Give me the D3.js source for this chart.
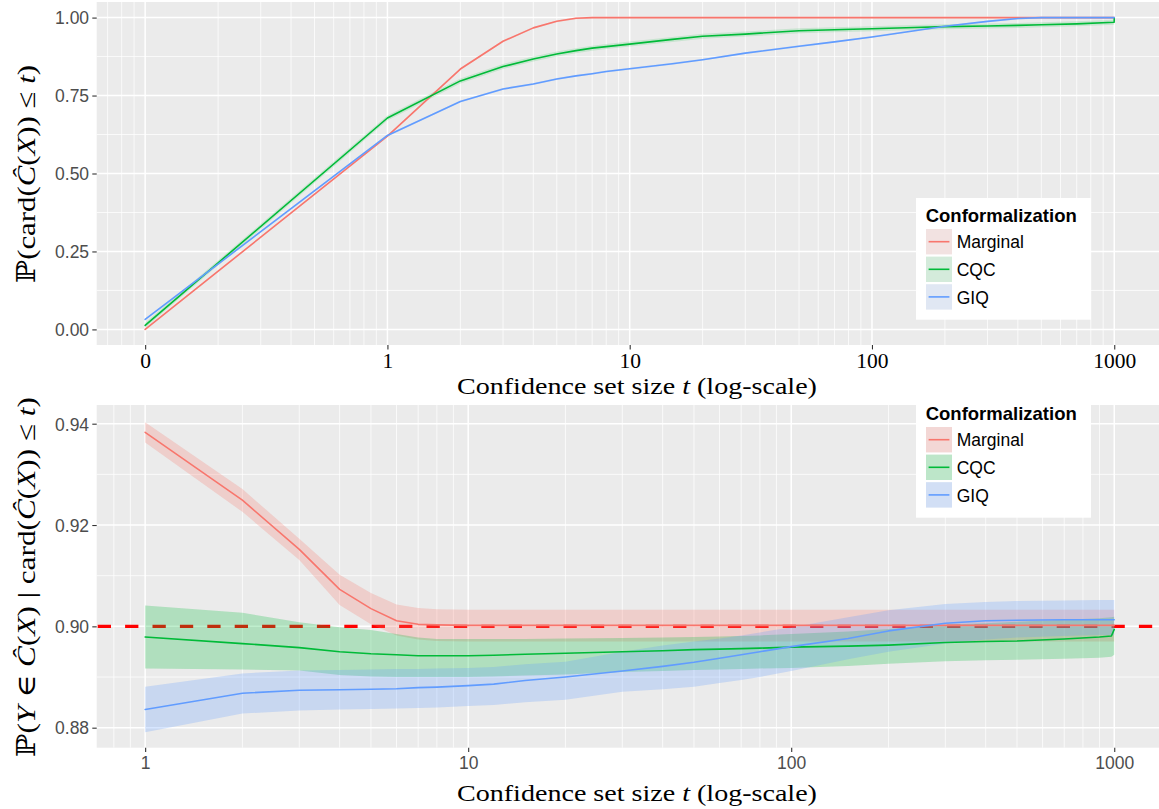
<!DOCTYPE html>
<html>
<head>
<meta charset="utf-8">
<script src="https://cdn.jsdelivr.net/npm/d3@7"></script>
<style>
  html, body { margin: 0; padding: 0; background: #ffffff; }
  svg { display: block; }
</style>
</head>
<body>
<svg id="chart" width="1159" height="809"></svg>
<script>
// ---------- data ----------
const methods = ["Marginal", "CQC", "GIQ"];
const colors = ["#F8766D", "#00BA38", "#619CFF"];

// Top panel: cumulative distribution of the confidence-set size (t = 0 is drawn one decade below 1)
const sizeT = [0, 1, 2, 3, 4, 5, 6, 7, 8, 10, 15, 20, 30, 50, 70, 100, 150, 200, 300, 400, 500, 700, 999, 1000];
const cdfMarginal = [0.000, 0.620, 0.835, 0.924, 0.967, 0.988, 0.998, 1.000, 1.000, 1.000, 1.000, 1.000, 1.000, 1.000, 1.000, 1.000, 1.000, 1.000, 1.000, 1.000, 1.000, 1.000, 1.000, 1.000];
const cdfCQC      = [0.013, 0.678, 0.797, 0.843, 0.867, 0.883, 0.894, 0.902, 0.907, 0.915, 0.930, 0.940, 0.947, 0.958, 0.961, 0.964, 0.968, 0.971, 0.973, 0.975, 0.977, 0.980, 0.985, 0.999];
const cdfGIQ      = [0.032, 0.622, 0.731, 0.771, 0.787, 0.803, 0.813, 0.820, 0.827, 0.836, 0.852, 0.865, 0.886, 0.908, 0.922, 0.938, 0.958, 0.972, 0.988, 0.997, 1.000, 1.000, 1.000, 1.000];
const cdfBandHalf = [0.003, 0.008, 0.003];

// Bottom panel: conditional coverage given the set size, with confidence bands
const condT = [1, 2, 3, 4, 5, 6, 7, 8, 10, 12, 15, 20, 30, 40, 50, 60, 70, 80, 100, 150, 200, 300, 400, 500, 700, 900, 980, 1000];
const covMarginal   = [0.9383, 0.9249, 0.9152, 0.9073, 0.9035, 0.9011, 0.9004, 0.9003, 0.9002, 0.9002, 0.9002, 0.9002, 0.9002, 0.9002, 0.9002, 0.9002, 0.9002, 0.9002, 0.9002, 0.9002, 0.9002, 0.9002, 0.9002, 0.9002, 0.9002, 0.9002, 0.9002, 0.9002];
const covMarginalLo = [0.9363, 0.9226, 0.9131, 0.9042, 0.9004, 0.8982, 0.8974, 0.8971, 0.8970, 0.8970, 0.8970, 0.8970, 0.8970, 0.8970, 0.8970, 0.8970, 0.8970, 0.8970, 0.8970, 0.8970, 0.8970, 0.8970, 0.8970, 0.8970, 0.8970, 0.8970, 0.8970, 0.8970];
const covMarginalHi = [0.9403, 0.9271, 0.9173, 0.9102, 0.9066, 0.9043, 0.9036, 0.9034, 0.9033, 0.9033, 0.9033, 0.9033, 0.9033, 0.9033, 0.9033, 0.9033, 0.9033, 0.9033, 0.9033, 0.9033, 0.9033, 0.9033, 0.9033, 0.9033, 0.9033, 0.9033, 0.9033, 0.9033];
const covCQC   = [0.8979, 0.8966, 0.8958, 0.8950, 0.8946, 0.8944, 0.8942, 0.8942, 0.8942, 0.8943, 0.8945, 0.8947, 0.8950, 0.8952, 0.8954, 0.8955, 0.8956, 0.8957, 0.8959, 0.8961, 0.8963, 0.8968, 0.8970, 0.8971, 0.8975, 0.8979, 0.8981, 0.8994];
const covCQCLo = [0.8917, 0.8915, 0.8913, 0.8904, 0.8901, 0.8900, 0.8900, 0.8900, 0.8900, 0.8901, 0.8903, 0.8905, 0.8910, 0.8912, 0.8914, 0.8915, 0.8916, 0.8917, 0.8918, 0.8922, 0.8926, 0.8931, 0.8933, 0.8934, 0.8936, 0.8938, 0.8940, 0.8944];
const covCQCHi = [0.9041, 0.9027, 0.9008, 0.8998, 0.8993, 0.8985, 0.8978, 0.8975, 0.8975, 0.8975, 0.8975, 0.8976, 0.8977, 0.8978, 0.8979, 0.8980, 0.8981, 0.8982, 0.8985, 0.8990, 0.8995, 0.9003, 0.9006, 0.9009, 0.9013, 0.9016, 0.9018, 0.9019];
const covGIQ   = [0.8836, 0.8868, 0.8874, 0.8875, 0.8876, 0.8877, 0.8879, 0.8880, 0.8883, 0.8886, 0.8893, 0.8900, 0.8912, 0.8921, 0.8929, 0.8937, 0.8944, 0.8950, 0.8960, 0.8976, 0.8991, 0.9006, 0.9011, 0.9012, 0.9013, 0.9013, 0.9013, 0.9013];
const covGIQLo = [0.8791, 0.8828, 0.8834, 0.8836, 0.8837, 0.8838, 0.8839, 0.8840, 0.8843, 0.8845, 0.8850, 0.8855, 0.8871, 0.8876, 0.8881, 0.8888, 0.8894, 0.8900, 0.8912, 0.8935, 0.8950, 0.8966, 0.8974, 0.8978, 0.8981, 0.8983, 0.8983, 0.8983];
const covGIQHi = [0.8881, 0.8907, 0.8913, 0.8914, 0.8915, 0.8916, 0.8916, 0.8917, 0.8918, 0.8920, 0.8925, 0.8930, 0.8950, 0.8962, 0.8970, 0.8976, 0.8982, 0.8988, 0.8998, 0.9018, 0.9032, 0.9044, 0.9048, 0.9050, 0.9051, 0.9052, 0.9052, 0.9052];
const targetLevel = 0.90;

const topXTicks = [0, 1, 10, 100, 1000];
const topYTicks = [0, 0.25, 0.5, 0.75, 1];
const botXTicks = [1, 10, 100, 1000];
const botYTicks = [0.88, 0.90, 0.92, 0.94];

// ---------- layout ----------
const svg = d3.select("#chart");
const SANS = "'Liberation Sans', Arial, Helvetica, sans-serif";
const SERIF = "'Liberation Serif', 'Times New Roman', 'DejaVu Serif', serif";
const PANEL_BG = "#EBEBEB";

svg.append("rect").attr("width", 1159).attr("height", 809).attr("fill", "#ffffff");

const topBox = { left: 96.7, right: 1162.7, top: 2, bottom: 345 };
const botBox = { left: 96.7, right: 1162.7, top: 405, bottom: 747.7 };

const xTop = d3.scaleLog().domain([Math.pow(10, -1.2), Math.pow(10, 3.2)]).range([topBox.left, topBox.right]);
const yTop = d3.scaleLinear().domain([-0.05, 1.05]).range([topBox.bottom, topBox.top]);
const xBot = d3.scaleLog().domain([Math.pow(10, -0.15), Math.pow(10, 3.15)]).range([botBox.left, botBox.right]);
const yBot = d3.scaleLinear().domain([0.87605, 0.94369]).range([botBox.bottom, botBox.top]);

// size 0 sits one decade below size 1 on the log axis
const sizeToAxis = t => (t === 0 ? 0.1 : t);

function minorLogBreaks(scale) {
  const [lo, hi] = scale.domain();
  const out = [];
  for (let k = -3; k <= 4; k++) {
    for (let m = 2; m <= 9; m++) {
      const v = m * Math.pow(10, k);
      if (v > lo && v < hi) out.push(v);
    }
  }
  return out;
}

function drawPanel(box, xs, ys, xMajor, yMajor, yMinor, clipId) {
  const g = svg.append("g");
  g.append("rect")
    .attr("x", box.left).attr("y", box.top)
    .attr("width", box.right - box.left).attr("height", box.bottom - box.top)
    .attr("fill", PANEL_BG);
  svg.append("clipPath").attr("id", clipId).append("rect")
    .attr("x", box.left).attr("y", box.top)
    .attr("width", box.right - box.left).attr("height", box.bottom - box.top);
  // minor grid
  g.selectAll(null).data(yMinor).join("line")
    .attr("x1", box.left).attr("x2", box.right)
    .attr("y1", d => ys(d)).attr("y2", d => ys(d))
    .attr("stroke", "#ffffff").attr("stroke-width", 0.75);
  g.selectAll(null).data(minorLogBreaks(xs)).join("line")
    .attr("y1", box.top).attr("y2", box.bottom)
    .attr("x1", d => xs(d)).attr("x2", d => xs(d))
    .attr("stroke", "#ffffff").attr("stroke-width", 0.75);
  // major grid
  g.selectAll(null).data(yMajor).join("line")
    .attr("x1", box.left).attr("x2", box.right)
    .attr("y1", d => ys(d)).attr("y2", d => ys(d))
    .attr("stroke", "#ffffff").attr("stroke-width", 1.5);
  g.selectAll(null).data(xMajor).join("line")
    .attr("y1", box.top).attr("y2", box.bottom)
    .attr("x1", d => xs(d)).attr("x2", d => xs(d))
    .attr("stroke", "#ffffff").attr("stroke-width", 1.5);
  return g;
}

// ---------- top panel ----------
drawPanel(topBox, xTop, yTop, topXTicks.map(sizeToAxis), topYTicks, [0.125, 0.375, 0.625, 0.875], "clipTop");

const cdfSeries = [cdfMarginal, cdfCQC, cdfGIQ];
const topLayer = svg.append("g").attr("clip-path", "url(#clipTop)");
cdfSeries.forEach((vals, i) => {
  const pts = sizeT.map((t, j) => ({ x: sizeToAxis(t), y: vals[j] }));
  topLayer.append("path")
    .attr("d", d3.area().x(d => xTop(d.x)).y0(d => yTop(d.y - cdfBandHalf[i])).y1(d => yTop(d.y + cdfBandHalf[i]))(pts))
    .attr("fill", colors[i]).attr("fill-opacity", 0.15);
});
cdfSeries.forEach((vals, i) => {
  const pts = sizeT.map((t, j) => ({ x: sizeToAxis(t), y: vals[j] }));
  topLayer.append("path")
    .attr("d", d3.line().x(d => xTop(d.x)).y(d => yTop(d.y))(pts))
    .attr("fill", "none").attr("stroke", colors[i]).attr("stroke-width", 1.6)
    .attr("stroke-linejoin", "round").attr("stroke-linecap", "round");
});

// top axes
const topYAxis = svg.append("g").attr("transform", `translate(${topBox.left},0)`)
  .call(d3.axisLeft(yTop).tickValues(topYTicks).tickFormat(d3.format(".2f")).tickSize(4.4).tickPadding(3.2));
const topXAxis = svg.append("g").attr("transform", `translate(0,${topBox.bottom})`)
  .call(d3.axisBottom(xTop).tickValues(topXTicks.map(sizeToAxis))
    .tickFormat(d => (d < 1 ? "0" : d3.format("d")(d))).tickSize(4.4));

// ---------- bottom panel ----------
drawPanel(botBox, xBot, yBot, botXTicks, botYTicks, [0.89, 0.91, 0.93], "clipBot");

const botLayer = svg.append("g").attr("clip-path", "url(#clipBot)");
botLayer.append("line")
  .attr("x1", botBox.left + 1).attr("x2", botBox.right)
  .attr("y1", yBot(targetLevel)).attr("y2", yBot(targetLevel))
  .attr("stroke", "#FF0000").attr("stroke-width", 3.3)
  .attr("stroke-dasharray", "13.3 14.1");

const covSeries = [
  { mid: covMarginal, lo: covMarginalLo, hi: covMarginalHi },
  { mid: covCQC, lo: covCQCLo, hi: covCQCHi },
  { mid: covGIQ, lo: covGIQLo, hi: covGIQHi }
];
covSeries.forEach((s, i) => {
  const pts = condT.map((t, j) => ({ x: t, lo: s.lo[j], hi: s.hi[j] }));
  botLayer.append("path")
    .attr("d", d3.area().x(d => xBot(d.x)).y0(d => yBot(d.lo)).y1(d => yBot(d.hi))(pts))
    .attr("fill", colors[i]).attr("fill-opacity", 0.25);
});
covSeries.forEach((s, i) => {
  const pts = condT.map((t, j) => ({ x: t, y: s.mid[j] }));
  botLayer.append("path")
    .attr("d", d3.line().x(d => xBot(d.x)).y(d => yBot(d.y))(pts))
    .attr("fill", "none").attr("stroke", colors[i]).attr("stroke-width", 1.6)
    .attr("stroke-linejoin", "round").attr("stroke-linecap", "round");
});

const botYAxis = svg.append("g").attr("transform", `translate(${botBox.left},0)`)
  .call(d3.axisLeft(yBot).tickValues(botYTicks).tickFormat(d3.format(".2f")).tickSize(4.4).tickPadding(3.2));
const botXAxis = svg.append("g").attr("transform", `translate(0,${botBox.bottom})`)
  .call(d3.axisBottom(xBot).tickValues(botXTicks).tickFormat(d3.format("d")).tickSize(4.4));

// axis styling
[topYAxis, topXAxis, botYAxis, botXAxis].forEach(a => {
  a.attr("font-family", null).attr("font-size", null);
  a.select(".domain").remove();
  a.selectAll(".tick line").attr("stroke", "#333333").attr("stroke-width", 1.1);
});
[topYAxis, botYAxis].forEach(a => {
  a.selectAll(".tick text")
    .attr("font-family", SANS).attr("font-size", 17.5).attr("fill", "#4D4D4D")
    .attr("dy", "0.36em");
});
topXAxis.selectAll(".tick text")
  .attr("font-family", SERIF).attr("font-size", 21.5).attr("fill", "#000000")
  .attr("dy", null).attr("y", 22.5);
botXAxis.selectAll(".tick text")
  .attr("font-family", SANS).attr("font-size", 17.5).attr("fill", "#4D4D4D")
  .attr("dy", null).attr("y", 21.4);

// ---------- titles ----------
function mathText(parent, parts, attrs, size) {
  const t = parent.append("text")
    .attr("font-family", SERIF).attr("font-size", size).attr("fill", "#000000");
  Object.entries(attrs).forEach(([k, v]) => t.attr(k, v));
  parts.forEach(p => {
    const s = t.append("tspan").text(p.s);
    if (p.i) s.attr("font-style", "italic");
  });
  return t;
}

const xTitleParts = [{ s: "Confidence set size " }, { s: "t", i: true }, { s: " (log-scale)" }];
mathText(svg, xTitleParts, { x: 457, y: 393.5, textLength: 360, lengthAdjust: "spacingAndGlyphs" }, 23.5);
mathText(svg, xTitleParts, { x: 457, y: 800.5, textLength: 360, lengthAdjust: "spacingAndGlyphs" }, 23.5);

mathText(svg.append("g").attr("transform", "translate(35,174) rotate(-90)"),
  [{ s: "ℙ(card(" }, { s: "Ĉ", i: true }, { s: "(" }, { s: "X", i: true }, { s: ")) ≤ " }, { s: "t", i: true }, { s: ")" }],
  { x: 0, y: 0, "text-anchor": "middle", textLength: 218, lengthAdjust: "spacingAndGlyphs" }, 26);

mathText(svg.append("g").attr("transform", "translate(35,577) rotate(-90)"),
  [{ s: "ℙ(" }, { s: "Y", i: true }, { s: " ∈ " }, { s: "Ĉ", i: true }, { s: "(" }, { s: "X", i: true },
   { s: ") | card(" }, { s: "Ĉ", i: true }, { s: "(" }, { s: "X", i: true }, { s: ")) ≤ " }, { s: "t", i: true }, { s: ")" }],
  { x: 0, y: 0, "text-anchor": "middle", textLength: 360, lengthAdjust: "spacingAndGlyphs" }, 26);

// ---------- legends ----------
function drawLegend(y0, keyAlpha) {
  const g = svg.append("g");
  g.append("rect").attr("x", 916).attr("y", y0).attr("width", 175).attr("height", 121.7).attr("fill", "#ffffff");
  g.append("text").attr("x", 925.7).attr("y", y0 + 23.7)
    .attr("font-family", SANS).attr("font-size", 18.5).attr("font-weight", "bold").attr("fill", "#000000")
    .text("Conformalization");
  methods.forEach((m, i) => {
    const ky = y0 + 31 + i * 27.6;
    g.append("rect").attr("x", 926).attr("y", ky).attr("width", 26).attr("height", 25.4).attr("fill", "#F2F2F2");
    g.append("rect").attr("x", 926).attr("y", ky).attr("width", 26).attr("height", 25.4)
      .attr("fill", colors[i]).attr("fill-opacity", keyAlpha);
    g.append("line").attr("x1", 928.6).attr("x2", 949.4).attr("y1", ky + 12.7).attr("y2", ky + 12.7)
      .attr("stroke", colors[i]).attr("stroke-width", 1.6);
    g.append("text").attr("x", 956.7).attr("y", ky + 19.3)
      .attr("font-family", SANS).attr("font-size", 17.5).attr("fill", "#000000").text(m);
  });
}
drawLegend(198, 0.12);
drawLegend(396, 0.22);
</script>
</body>
</html>
